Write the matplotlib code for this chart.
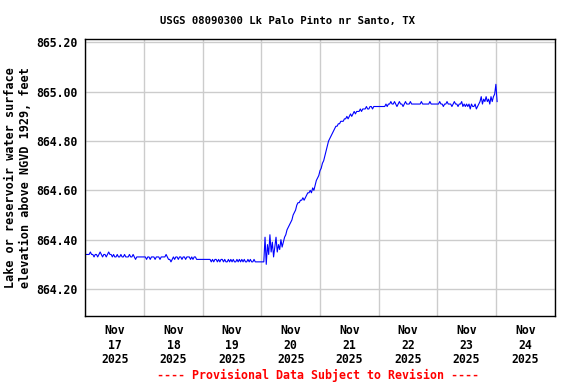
import numpy as np, pandas as pd
import matplotlib; matplotlib.use("Agg"); import matplotlib.pyplot as plt
import matplotlib.dates as mdates

# half-hourly lake stage (ft, NGVD 1929)
nov17 = [864.34, 864.34, 864.34, 864.34, 864.35, 864.34, 864.34, 864.33, 864.34, 864.34, 864.33, 864.34,
         864.35, 864.34, 864.33, 864.34, 864.34, 864.33, 864.34, 864.35, 864.34, 864.34, 864.33, 864.34,
         864.33, 864.33, 864.34, 864.33, 864.33, 864.34, 864.33, 864.33, 864.34, 864.33, 864.33, 864.33,
         864.34, 864.33, 864.33, 864.34, 864.33, 864.32, 864.33, 864.33, 864.33, 864.33, 864.33, 864.33]
nov18 = [864.33, 864.33, 864.32, 864.33, 864.33, 864.32, 864.33, 864.33, 864.33, 864.32, 864.33, 864.33,
         864.33, 864.32, 864.33, 864.33, 864.33, 864.33, 864.34, 864.33, 864.32, 864.32, 864.31, 864.32,
         864.33, 864.32, 864.33, 864.33, 864.32, 864.33, 864.33, 864.32, 864.33, 864.33, 864.32, 864.33,
         864.33, 864.33, 864.32, 864.33, 864.32, 864.33, 864.33, 864.32, 864.32, 864.32, 864.32, 864.32]
nov19 = [864.32, 864.32, 864.32, 864.32, 864.32, 864.32, 864.32, 864.31, 864.32, 864.31, 864.32, 864.32,
         864.31, 864.32, 864.31, 864.32, 864.32, 864.31, 864.32, 864.31, 864.31, 864.32, 864.31, 864.32,
         864.31, 864.32, 864.31, 864.31, 864.32, 864.31, 864.32, 864.31, 864.32, 864.31, 864.32, 864.31,
         864.31, 864.32, 864.31, 864.32, 864.31, 864.31, 864.32, 864.31, 864.31, 864.31, 864.31, 864.31]
nov20 = [864.31, 864.31, 864.31, 864.41, 864.30, 864.38, 864.34, 864.42, 864.35, 864.39, 864.33, 864.37,
         864.41, 864.35, 864.38, 864.36, 864.40, 864.37, 864.39, 864.41, 864.42, 864.44, 864.45, 864.46,
         864.47, 864.48, 864.50, 864.51, 864.52, 864.54, 864.55, 864.55, 864.56, 864.56, 864.57, 864.56,
         864.57, 864.58, 864.59, 864.59, 864.60, 864.59, 864.61, 864.60, 864.62, 864.64, 864.65, 864.66]
nov21 = [864.68, 864.69, 864.71, 864.72, 864.74, 864.76, 864.78, 864.80, 864.81, 864.82, 864.83, 864.84,
         864.85, 864.86, 864.86, 864.87, 864.87, 864.88, 864.88, 864.88, 864.89, 864.89, 864.90, 864.89,
         864.90, 864.91, 864.90, 864.91, 864.92, 864.91, 864.92, 864.92, 864.92, 864.93, 864.92, 864.93,
         864.93, 864.93, 864.94, 864.93, 864.93, 864.94, 864.94, 864.93, 864.94, 864.94, 864.94, 864.94]
nov22 = [864.94, 864.94, 864.94, 864.94, 864.94, 864.94, 864.95, 864.94, 864.95, 864.95, 864.96, 864.95,
         864.95, 864.96, 864.95, 864.94, 864.95, 864.96, 864.95, 864.95, 864.94, 864.95, 864.96, 864.95,
         864.95, 864.95, 864.96, 864.95, 864.95, 864.95, 864.95, 864.95, 864.95, 864.95, 864.95, 864.96,
         864.95, 864.95, 864.95, 864.95, 864.95, 864.95, 864.96, 864.95, 864.95, 864.95, 864.95, 864.95]
nov23 = [864.95, 864.95, 864.96, 864.95, 864.95, 864.94, 864.95, 864.95, 864.96, 864.95, 864.95, 864.95,
         864.94, 864.95, 864.96, 864.95, 864.95, 864.94, 864.95, 864.95, 864.96, 864.94, 864.95, 864.94,
         864.95, 864.94, 864.95, 864.93, 864.95, 864.94, 864.94, 864.95, 864.93, 864.94, 864.95, 864.96,
         864.98, 864.95, 864.97, 864.96, 864.98, 864.96, 864.97, 864.95, 864.98, 864.96, 864.98, 864.99]
nov24 = [865.03, 864.96]

stage = nov17 + nov18 + nov19 + nov20 + nov21 + nov22 + nov23 + nov24
times = pd.date_range("2025-11-17 00:00", periods=len(stage), freq="30min")

day_labels = ["Nov\n17\n2025", "Nov\n18\n2025", "Nov\n19\n2025", "Nov\n20\n2025",
              "Nov\n21\n2025", "Nov\n22\n2025", "Nov\n23\n2025", "Nov\n24\n2025"]
y_ticks = [864.20, 864.40, 864.60, 864.80, 865.00, 865.20]

FONT = "DejaVu Sans Mono"
fig = plt.figure(figsize=(5.76, 3.84), dpi=100)
ax = fig.add_axes([0.1484, 0.1771, 0.8143, 0.7213])
ax.plot(times, stage, color="#0000ff", lw=0.8)

ax.set_xlim(pd.Timestamp("2025-11-17"), pd.Timestamp("2025-11-25"))
ax.set_ylim(864.0905, 865.2137)
ax.xaxis.set_major_locator(mdates.DayLocator())
ax.xaxis.set_minor_locator(mdates.HourLocator(byhour=[12]))
ax.xaxis.set_major_formatter(plt.NullFormatter())
ax.xaxis.set_minor_formatter(plt.FixedFormatter(day_labels))
ax.set_yticks(y_ticks)
ax.set_yticklabels([f"{v:.2f}" for v in y_ticks])
ax.grid(True, which="major", color="#cccccc", lw=1.0)
ax.set_axisbelow(True)
ax.tick_params(which="both", length=0)
ax.tick_params(axis="y", pad=6)
ax.tick_params(axis="x", which="minor", pad=6)
for lab in ax.get_yticklabels() + ax.get_xticklabels(minor=True):
    lab.set_fontfamily(FONT); lab.set_fontweight("bold"); lab.set_fontsize(8.3)
    lab.set_linespacing(1.15)
for s in ax.spines.values():
    s.set_linewidth(1.0); s.set_color("black")

ax.set_ylabel("Lake or reservoir water surface\nelevation above NGVD 1929, feet",
              fontfamily=FONT, fontweight="bold", fontsize=8.5, linespacing=1.15, labelpad=3)
fig.text(0.5, 0.945, "USGS 08090300 Lk Palo Pinto nr Santo, TX", ha="center", va="center",
         fontfamily=FONT, fontweight="bold", fontsize=7.7)
fig.text(0.552, 0.023, "---- Provisional Data Subject to Revision ----", ha="center", va="center",
         color="#ff0000", fontfamily=FONT, fontweight="bold", fontsize=8.4)

fig.savefig("out.png", dpi=100)
